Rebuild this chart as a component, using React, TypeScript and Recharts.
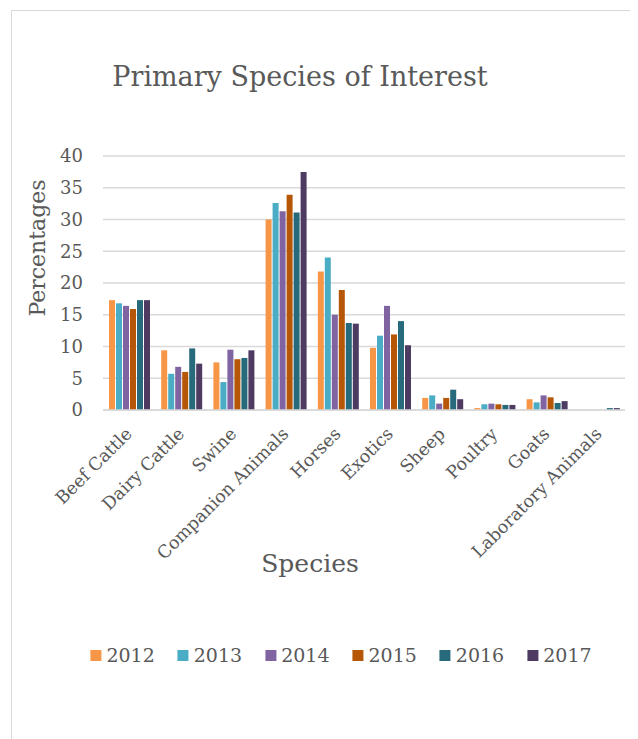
import { Bar, BarChart, CartesianGrid, XAxis, YAxis } from 'recharts'

const species = [
  'Beef Cattle',
  'Dairy Cattle',
  'Swine',
  'Companion Animals',
  'Horses',
  'Exotics',
  'Sheep',
  'Poultry',
  'Goats',
  'Laboratory Animals',
]

const years = ['2012', '2013', '2014', '2015', '2016', '2017']
const yearColors = ['#F79646', '#4BACC6', '#8064A2', '#B65708', '#276A7C', '#4D3B62']

const values2012 = [17.3, 9.4, 7.5, 30.0, 21.8, 9.8, 1.9, 0.3, 1.7, 0]
const values2013 = [16.8, 5.7, 4.4, 32.6, 24.0, 11.7, 2.3, 0.9, 1.2, 0]
const values2014 = [16.4, 6.8, 9.5, 31.3, 15.0, 16.4, 1.0, 1.0, 2.3, 0]
const values2015 = [15.9, 6.0, 8.0, 33.9, 18.9, 11.9, 1.9, 0.9, 2.0, 0]
const values2016 = [17.3, 9.7, 8.2, 31.1, 13.7, 14.0, 3.2, 0.8, 1.1, 0.3]
const values2017 = [17.3, 7.3, 9.4, 37.5, 13.6, 10.2, 1.7, 0.8, 1.4, 0.3]

const yTicks = [0, 5, 10, 15, 20, 25, 30, 35, 40]

const seriesValues = [values2012, values2013, values2014, values2015, values2016, values2017]

const data = species.map((name, i) => {
  const row: Record<string, string | number> = { name }
  years.forEach((year, j) => {
    row[year] = seriesValues[j][i]
  })
  return row
})

const textColor = '#595959'
const font = '"DejaVu Serif", serif'

function SpeciesTick({ x, y, payload }: { x?: number; y?: number; payload?: { value: string } }) {
  const px = (x ?? 0) + 4
  const py = (y ?? 0) + 17
  return (
    <text
      x={px}
      y={py}
      transform={`rotate(-45, ${px}, ${py})`}
      textAnchor="end"
      fill={textColor}
      fontSize={17.5}
      fontFamily={font}
    >
      {payload?.value}
    </text>
  )
}

export default function App() {
  return (
    <div
      style={{
        position: 'relative',
        marginLeft: 3,
        marginTop: 2,
        width: 624,
        height: 740,
        border: '1px solid #d9d9d9',
        background: '#fff',
        fontFamily: font,
        color: textColor,
      }}
    >
      <style>{'body{overflow:hidden}'}</style>
      <div
        style={{
          position: 'absolute',
          left: 288,
          top: 50,
          transform: 'translateX(-50%)',
          fontSize: 27,
          whiteSpace: 'nowrap',
          lineHeight: '32px',
        }}
      >
        Primary Species of Interest
      </div>
      <div
        style={{
          position: 'absolute',
          left: 25,
          top: 237,
          transform: 'translate(-50%, -50%) rotate(-90deg)',
          fontSize: 22,
          whiteSpace: 'nowrap',
        }}
      >
        Percentages
      </div>
      <BarChart
        width={624}
        height={620}
        data={data}
        margin={{ top: 145, right: 11, left: 11, bottom: 0 }}
        barCategoryGap="11.5%"
        barGap={1}
      >
        <CartesianGrid vertical={false} stroke="#d9d9d9" strokeWidth={1.5} />
        <XAxis
          dataKey="name"
          interval={0}
          height={221}
          axisLine={{ stroke: '#d9d9d9', strokeWidth: 1.5 }}
          tickLine={false}
          tick={<SpeciesTick />}
        />
        <YAxis
          width={80}
          domain={[0, 40]}
          ticks={yTicks}
          axisLine={false}
          tickLine={false}
          tickSize={0}
          tickMargin={20}
          tick={{ fill: textColor, fontSize: 18, fontFamily: font }}
        />
        {years.map((year, j) => (
          <Bar
            key={year}
            dataKey={year}
            fill={yearColors[j]}
            isAnimationActive={false}
          />
        ))}
      </BarChart>
      <div
        style={{
          position: 'absolute',
          left: 298,
          top: 552,
          transform: 'translate(-50%, -50%)',
          fontSize: 25,
          whiteSpace: 'nowrap',
        }}
      >
        Species
      </div>
      <div
        style={{
          position: 'absolute',
          left: 329,
          top: 633,
          transform: 'translateX(-50%)',
          display: 'flex',
          gap: 23,
          fontSize: 19,
          whiteSpace: 'nowrap',
          lineHeight: '22px',
        }}
      >
        {years.map((year, j) => (
          <div key={year} style={{ display: 'flex', alignItems: 'center', gap: 5 }}>
            <span style={{ width: 11, height: 11, background: yearColors[j], display: 'inline-block' }} />
            <span>{year}</span>
          </div>
        ))}
      </div>
    </div>
  )
}
